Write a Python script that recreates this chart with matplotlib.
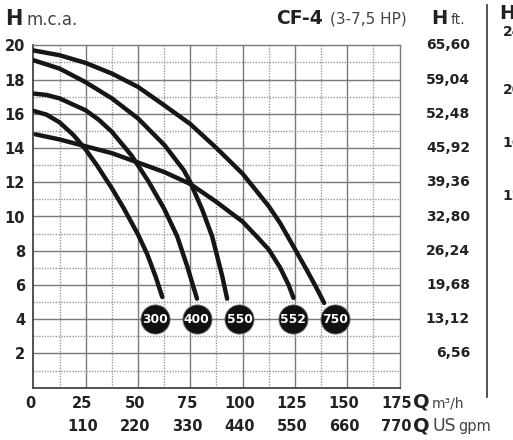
import matplotlib
matplotlib.use("Agg")
import matplotlib.pyplot as plt
import numpy as np

plt.rcParams['font.family'] = ['DejaVu Sans']

# curves: Q in m3/h, H in m.c.a.
q300 = [0, 6.25, 12.5, 19.2, 24.75, 30.3, 37.5, 43.1, 50, 54.4, 58.4, 61.6]
h300 = [16.17, 15.95, 15.5, 14.75, 13.95, 13.0, 11.65, 10.5, 8.95, 7.8, 6.5, 5.3]

q400 = [0, 6.25, 12.5, 25, 31.25, 37.5, 47, 55, 62.5, 68.7, 73.5, 78.2]
h400 = [17.18, 17.1, 16.9, 16.2, 15.65, 14.95, 13.55, 12.05, 10.45, 8.85, 7.1, 5.2]

q550 = [0, 12.5, 24.75, 37.5, 50, 62.8, 71.9, 75, 80.7, 85.4, 90.2, 92.6]
h550 = [19.13, 18.64, 17.86, 16.9, 15.73, 14.15, 12.7, 12.0, 10.4, 8.85, 6.55, 5.2]

q552 = [1, 12.5, 25, 37.5, 50, 62.5, 75, 87.5, 94, 100, 106.7, 112.5, 118, 122, 124.3]
h552 = [14.8, 14.5, 14.1, 13.7, 13.15, 12.6, 11.9, 10.85, 10.25, 9.7, 8.84, 8.07, 7.0, 6.0, 5.25]

q750 = [0, 12.5, 25, 37.5, 50, 62.5, 75, 87.5, 100, 112.5, 118, 125, 131, 135, 139]
h750 = [19.7, 19.42, 18.97, 18.35, 17.57, 16.5, 15.4, 14.0, 12.5, 10.6, 9.6, 8.1, 6.8, 5.9, 4.95]

models = ["300", "400", "550", "552", "750"]
label_q = [58, 78, 98.5, 124.3, 144.3]
label_h = 4

q_ticks = [0, 25, 50, 75, 100, 125, 150, 175]
gpm_labels = ["110", "220", "330", "440", "550", "660", "770"]
h_ticks = [2, 4, 6, 8, 10, 12, 14, 16, 18, 20]
ft_labels = ["6,56", "13,12", "19,68", "26,24", "32,80", "39,36", "45,92", "52,48", "59,04", "65,60"]
side_labels = ["24", "20", "16", "12", "8", "4"]

W, H = 513, 440
fig = plt.figure(figsize=(W / 100, H / 100), dpi=100)
ax = fig.add_axes([33.4 / W, 1 - 387.7 / H, (399.5 - 33.4) / W, (387.7 - 45.3) / H])
ax.set_xlim(0, 175)
ax.set_ylim(0, 20)

# grid: solid every 25 / 2 m, dotted in between
for q in np.arange(12.5, 175, 12.5):
    if q % 25 == 0:
        ax.axvline(q, color='#7a7a7a', lw=1.0, zorder=1)
    else:
        ax.axvline(q, color='#999999', lw=1.0, ls=(0, (1, 1)), zorder=1)
for h in range(1, 20):
    if h % 2 == 0:
        ax.axhline(h, color='#7a7a7a', lw=1.0, zorder=1)
    else:
        ax.axhline(h, color='#999999', lw=1.0, ls=(0, (1, 1)), zorder=1)
for s in ax.spines:
    ax.spines[s].set_color('#7a7a7a')
    ax.spines[s].set_linewidth(1.0)
ax.spines['left'].set_color('#444444')
ax.spines['bottom'].set_color('#444444')
ax.spines['left'].set_linewidth(1.3)
ax.spines['bottom'].set_linewidth(1.3)

ax.set_xticks([])
ax.set_yticks(h_ticks)
ax.set_yticklabels([str(v) for v in h_ticks], fontsize=10.5, fontweight='bold', color='#222222')
ax.tick_params(axis='y', length=0, pad=6)

for qq, hh in [(q300, h300), (q400, h400), (q550, h550), (q552, h552), (q750, h750)]:
    ax.plot(qq, hh, color='#161616', lw=3.2, solid_capstyle='round', solid_joinstyle='round', zorder=3)

for name, q in zip(models, label_q):
    ax.plot(q, label_h, 'o', ms=21, color='#111111', mec='#777777', mew=0.6, zorder=4, clip_on=False)
    ax.text(q, label_h, name, color='white', fontsize=8.8, fontweight='bold', ha='center', va='center', zorder=5)

# right-hand feet scale
ytr = ax.get_yaxis_transform()
for h, lab in zip(h_ticks, ft_labels):
    ax.text(1.1926, h, lab, transform=ytr, ha='right', va='center', fontsize=10, fontweight='bold', color='#222222')

# bottom scales
xtr = ax.get_xaxis_transform()
for q in q_ticks:
    ax.text(q - 1.5, -0.045, str(q), transform=xtr, ha='center', va='center',
            fontsize=10.5, fontweight='bold', color='#222222')
for q, lab in zip(q_ticks[1:], gpm_labels):
    ax.text(q - 1.5, -0.112, lab, transform=xtr, ha='center', va='center',
            fontsize=10.5, fontweight='bold', color='#222222')


def ftext(x, y, s, color='#222222', **kw):
    fig.text(x / W, 1 - y / H, s, va='baseline', color=color, **kw)


ftext(5, 25, 'H', fontsize=15, fontweight='bold')
ftext(27, 25, 'm.c.a.', fontsize=12, color='#444444')
ftext(276, 23.5, 'CF-4', fontsize=13.5, fontweight='bold')
ftext(330, 23.5, '(3-7,5 HP)', fontsize=11, color='#444444')
ftext(431, 23.5, 'H', fontsize=14, fontweight='bold')
ftext(451, 23.5, 'ft.', fontsize=10, color='#444444')
ftext(413, 407.5, 'Q', fontsize=14, fontweight='bold')
ftext(432, 407.5, 'm³/h', fontsize=10, color='#444444')
ftext(413, 431, 'Q', fontsize=14, fontweight='bold')
ftext(433, 431, 'US', fontsize=12.5, color='#444444')
ftext(458, 431, 'gpm', fontsize=10.5, color='#444444')

# separator and the cut-off neighbour chart
fig.add_artist(plt.Line2D([486.7 / W, 486.7 / W], [1 - 5 / H, 1 - 397 / H], color='#333333', lw=1.2))
ftext(499, 19, 'H', fontsize=14, fontweight='bold')
for y, lab in zip([32, 90, 143, 196, 258, 312], side_labels):
    fig.text(522 / W, 1 - y / H, lab, ha='right', va='center', fontsize=10, fontweight='bold', color='#222222')

fig.savefig('out.png', dpi=100)
